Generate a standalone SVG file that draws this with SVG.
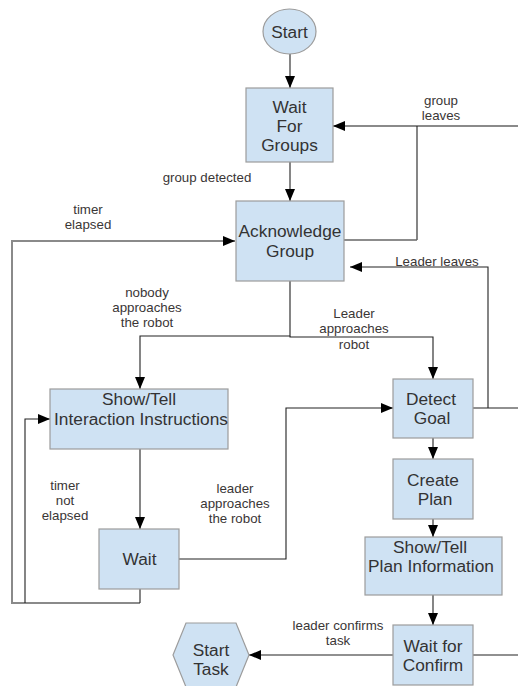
<svg xmlns="http://www.w3.org/2000/svg" width="518" height="686" viewBox="0 0 518 686">
<style>
.box{fill:#cfe2f3;stroke:#9c9c9c;stroke-width:1.2}
.nt{font-family:"Liberation Sans",Arial,sans-serif;font-size:17.3px;fill:#333;text-anchor:middle}
.lb{font-family:"Liberation Sans",Arial,sans-serif;font-size:13.3px;fill:#3a3636;text-anchor:middle}
.c{fill:none;stroke:#222;stroke-width:1.1}
.g{fill:none;stroke:#8a8a8a;stroke-width:2}
.gm{fill:none;stroke:#666;stroke-width:1.5}
</style>
<defs>
<marker id="ah" viewBox="0 0 12 10" refX="12" refY="5" markerWidth="12" markerHeight="10" markerUnits="userSpaceOnUse" orient="auto">
<path d="M0,0 L12,5 L0,10 Z" fill="#000"/>
</marker>
</defs>
<rect width="518" height="686" fill="#fff"/>
<g id="connectors">
<path class="c" d="M290,54 V88" marker-end="url(#ah)"/>
<path class="c" d="M290,162 V201" marker-end="url(#ah)"/>
<path class="g" d="M518,126 H345"/>
<path class="c" d="M345,126 H333" marker-end="url(#ah)"/>
<path class="c" d="M417,126 V240"/>
<path class="gm" d="M344,240 H417"/>
<path class="c" d="M488,408 V267 H350" marker-end="url(#ah)"/>
<path class="c" d="M473,408 H518"/>
<path class="g" d="M140,603 H12 V241 H224"/>
<path class="c" d="M224,241 H235" marker-end="url(#ah)"/>
<path class="c" d="M290,281 V336 H140 V389" marker-end="url(#ah)"/>
<path class="c" d="M290,336 V337 H433 V379" marker-end="url(#ah)"/>
<path class="c" d="M140,449 V529" marker-end="url(#ah)"/>
<path class="c" d="M140,589 V603"/>
<path class="c" d="M25,603 V419 H50" marker-end="url(#ah)"/>
<path class="c" d="M179,559 H286 V408 H393" marker-end="url(#ah)"/>
<path class="c" d="M433,438 V459" marker-end="url(#ah)"/>
<path class="c" d="M433,519 V537" marker-end="url(#ah)"/>
<path class="c" d="M433,595 V625" marker-end="url(#ah)"/>
<path class="c" d="M473,655 H518"/>
<path class="c" d="M393,655 H249" marker-end="url(#ah)"/>
</g>
<g id="labels">
<text class="lb" x="441" y="105">group</text>
<text class="lb" x="441" y="120">leaves</text>
<text class="lb" x="207" y="182">group detected</text>
<text class="lb" x="88" y="214">timer</text>
<text class="lb" x="88" y="229">elapsed</text>
<text class="lb" x="437" y="266">Leader leaves</text>
<text class="lb" x="147" y="297">nobody</text>
<text class="lb" x="147" y="312">approaches</text>
<text class="lb" x="147" y="327">the robot</text>
<text class="lb" x="354" y="318">Leader</text>
<text class="lb" x="354" y="333">approaches</text>
<text class="lb" x="354" y="349">robot</text>
<text class="lb" x="65" y="490">timer</text>
<text class="lb" x="65" y="505">not</text>
<text class="lb" x="65" y="520">elapsed</text>
<text class="lb" x="235" y="493">leader</text>
<text class="lb" x="235" y="508">approaches</text>
<text class="lb" x="235" y="523">the robot</text>
<text class="lb" x="338" y="630">leader confirms</text>
<text class="lb" x="338" y="645">task</text>
</g>
<g id="start">
<ellipse class="box" cx="289.5" cy="31.5" rx="26.5" ry="22.5"/>
<text class="nt" x="289.5" y="37.5">Start</text>
</g>
<g id="wait-for-groups">
<rect class="box" x="246" y="88" width="87" height="74"/>
<text class="nt" x="289.5" y="113">Wait</text>
<text class="nt" x="289.5" y="132">For</text>
<text class="nt" x="289.5" y="151">Groups</text>
</g>
<g id="acknowledge-group">
<rect class="box" x="236" y="201" width="108" height="80"/>
<text class="nt" x="290" y="237">Acknowledge</text>
<text class="nt" x="290" y="256.5">Group</text>
</g>
<g id="show-tell-instructions">
<rect class="box" x="50" y="389" width="178" height="60"/>
<text class="nt" x="139" y="405">Show/Tell</text>
<text class="nt" x="141" y="425">Interaction Instructions</text>
</g>
<g id="wait">
<rect class="box" x="99" y="529" width="80" height="60"/>
<text class="nt" x="139.5" y="565">Wait</text>
</g>
<g id="detect-goal">
<rect class="box" x="393" y="379" width="80" height="59"/>
<text class="nt" x="431" y="405">Detect</text>
<text class="nt" x="432" y="424">Goal</text>
</g>
<g id="create-plan">
<rect class="box" x="393" y="459" width="80" height="60"/>
<text class="nt" x="433" y="486">Create</text>
<text class="nt" x="435" y="505">Plan</text>
</g>
<g id="show-tell-plan">
<rect class="box" x="365" y="537" width="137" height="58"/>
<text class="nt" x="430" y="552.5">Show/Tell</text>
<text class="nt" x="431" y="572">Plan Information</text>
</g>
<g id="wait-for-confirm">
<rect class="box" x="393" y="625" width="80" height="60"/>
<text class="nt" x="433" y="651.5">Wait for</text>
<text class="nt" x="433" y="671">Confirm</text>
</g>
<g id="start-task">
<polygon class="box" points="186,623 236,623 249,655 236,687 186,687 173,655"/>
<text class="nt" x="211" y="656">Start</text>
<text class="nt" x="211" y="675">Task</text>
</g>
</svg>
